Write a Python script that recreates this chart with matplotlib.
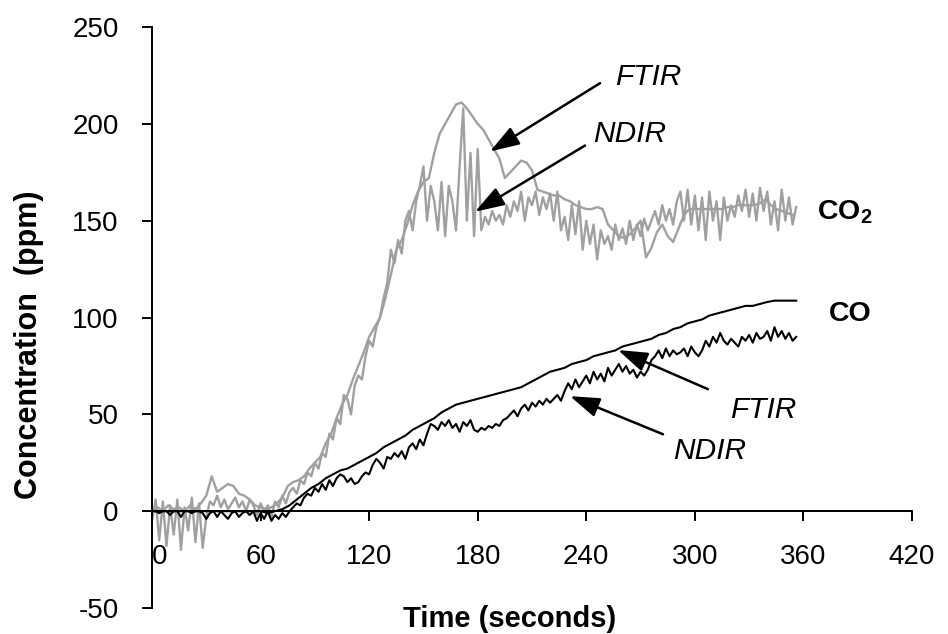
import numpy as np
import matplotlib
matplotlib.use("Agg")
import matplotlib.pyplot as plt

plt.rcParams['font.family'] = ['Liberation Sans', 'DejaVu Sans']
plt.rcParams['mathtext.fontset'] = 'custom'
plt.rcParams['mathtext.rm'] = 'Liberation Sans'
plt.rcParams['mathtext.bf'] = 'Liberation Sans:bold'
plt.rcParams['axes.unicode_minus'] = False

# CO2 NDIR (grey, noisy), one reading every 2 s
co2_ndir = [-5, 6, -15, 5, -18, 3, -12, 6, -20, 2, -10, 7, -16, 4, -19, -3,
            5, 3, 8, 2, 6, 1, 4, 7, 2, 5, 0, 6, 3, -2, 4, 0, 3, -3, 5, 2,
            8, 4, 10, 12, 9, 16, 14, 20, 18, 25, 22, 30, 28, 40, 37, 48, 45, 60,
            58, 50, 65, 70, 68, 80, 88, 85, 95, 100, 110, 118, 135, 128, 140, 133,
            150, 155, 145, 160, 168, 178, 150, 168, 160, 145, 170, 142, 168, 160,
            145, 178, 208, 150, 185, 142, 187, 145, 152, 148, 155, 150, 153, 148,
            158, 152, 160, 155, 165, 150, 162, 158, 165, 153, 162, 156, 164, 150,
            165, 145, 152, 140, 158, 143, 160, 135, 150, 138, 148, 130, 145, 138,
            142, 135, 148, 140, 146, 138, 150, 140, 148, 142, 151, 145, 150, 155,
            148, 158, 150, 156, 148, 160, 165, 150, 166, 148, 163, 145, 162, 140,
            165, 150, 160, 140, 162, 150, 158, 152, 163, 155, 166, 152, 164, 150,
            167, 155, 165, 148, 160, 145, 166, 150, 162, 148, 157]
co2_ndir_t = np.arange(len(co2_ndir)) * 2

# CO2 FTIR (grey, smoother), one reading every 3 s
co2_ftir = [0, 2, 0, 3, 1, 2, 0, 3, 1, 4, 8, 18, 10, 12, 14, 13, 9, 8, 6, 3,
            2, 1, 2, 4, 7, 13, 15, 16, 18, 22, 25, 28, 35, 40, 48, 55, 60, 68, 75, 82,
            90, 95, 100, 110, 122, 135, 140, 148, 158, 165, 170, 172, 185, 195, 200, 205,
            210, 211, 208, 204, 200, 197, 192, 187, 182, 172, 175, 178, 181, 180, 176, 166,
            165, 164, 163, 163, 161, 160, 158, 157, 156, 156, 157, 156, 148, 145, 142, 141,
            143, 146, 150, 131, 136, 144, 148, 142, 139, 146, 153, 156, 156, 156, 156, 156,
            156, 156, 157, 157, 158, 158, 158, 158, 159, 161, 158, 156, 155, 154, 153]
co2_ftir_t = np.arange(len(co2_ftir)) * 3

# CO NDIR (black, noisy), one reading every 2 s
co_ndir = [0, 0, -1, 0, 0, -2, 0, 0, -3, 0, 0, -1, 0, 0, -1, -4, -1, 0, -3, 0,
           -2, -4, -1, 0, -3, -1, 0, -2, 0, -5, -1, -4, 0, -5, -2, -4, -1, -3, 0, 2,
           4, 3, 7, 9, 8, 12, 10, 14, 11, 16, 13, 17, 19, 18, 15, 17, 14, 15, 18, 20,
           19, 24, 27, 25, 22, 28, 27, 30, 28, 31, 27, 33, 35, 32, 37, 34, 40, 45, 44, 42,
           46, 44, 47, 43, 45, 41, 46, 44, 47, 42, 41, 43, 42, 44, 43, 45, 44, 47, 48, 50,
           52, 49, 53, 55, 52, 56, 54, 57, 55, 58, 56, 58, 60, 57, 62, 66, 63, 68, 64, 67,
           70, 66, 72, 68, 71, 67, 74, 70, 73, 76, 72, 75, 71, 73, 69, 72, 70, 73, 78, 80,
           83, 79, 84, 80, 83, 81, 82, 84, 80, 85, 82, 80, 83, 88, 85, 90, 87, 92, 88, 86,
           89, 87, 85, 90, 88, 91, 87, 92, 89, 90, 93, 88, 95, 90, 93, 89, 92, 88, 90]
co_ndir_t = np.arange(len(co_ndir)) * 2

# CO FTIR (black, smooth), one reading every 4 s
co_ftir = [0, 0, 0, 0, 0, 0, 0, 0, 0, 0, 0, 0, 0, 0, 0, 0, -1, 0, 1, 3,
           6, 9, 12, 14, 17, 19, 21, 22, 24, 26, 28, 30, 33, 35, 37, 39, 42, 44, 46, 48,
           51, 53, 55, 56, 57, 58, 59, 60, 61, 62, 63, 64, 66, 68, 70, 72, 73, 74, 76, 77,
           78, 80, 81, 82, 83, 85, 86, 87, 88, 89, 91, 92, 94, 95, 97, 98, 99, 101, 102, 103,
           104, 105, 106, 106, 107, 108, 108.7, 108.7, 108.7, 108.7]
co_ftir_t = np.arange(len(co_ftir)) * 4

GREY = '#a0a0a0'

fig = plt.figure(figsize=(9.48, 6.34), dpi=100)
ax = fig.add_axes([152 / 948, 1 - 608 / 634, 760 / 948, 581 / 634])

ax.plot(co2_ndir_t, co2_ndir, color=GREY, lw=1.7)
ax.plot(co2_ftir_t, co2_ftir, color=GREY, lw=1.7)
ax.plot(co_ndir_t, co_ndir, color='black', lw=1.5)
ax.plot(co_ftir_t, co_ftir, color='black', lw=1.5)

ax.set_xlim(0, 420)
ax.set_ylim(-50, 250)
ax.set_xticks(range(0, 421, 60))
ax.set_yticks(range(-50, 251, 50))

for s in ['top', 'right']:
    ax.spines[s].set_visible(False)
ax.spines['bottom'].set_position(('data', 0))
ax.spines['left'].set_linewidth(1.4)
ax.spines['bottom'].set_linewidth(1.4)
ax.tick_params(axis='both', direction='out', length=7, width=1.4, labelsize=20)
ax.tick_params(axis='x', pad=17)
ax.tick_params(axis='y', pad=17)
ax.get_xticklabels()[0].set_horizontalalignment('left')

# arrows and labels
arrow_kw = dict(arrowstyle='-|>,head_length=0.9,head_width=0.3', color='black', lw=1.8,
                shrinkA=0, shrinkB=0, mutation_scale=20)
ax.annotate('', xy=(186.8, 185.7), xytext=(247.6, 221), arrowprops=arrow_kw)
ax.annotate('', xy=(178.5, 154.6), xytext=(239.3, 188.8), arrowprops=arrow_kw)
ax.annotate('', xy=(257.5, 83.2), xytext=(307.2, 63), arrowprops=arrow_kw)
ax.annotate('', xy=(231, 59.4), xytext=(282.4, 39.7), arrowprops=arrow_kw)

ax.text(274, 224, 'FTIR', fontsize=21.5, style='italic', ha='center', va='center')
ax.text(264, 194.5, 'NDIR', fontsize=21.5, style='italic', ha='center', va='center')
ax.text(338, 52, 'FTIR', fontsize=21.5, style='italic', ha='center', va='center')
ax.text(308.4, 30.9, 'NDIR', fontsize=21.5, style='italic', ha='center', va='center')
ax.text(367.5, 151, r'CO$_\mathbf{2}$', fontsize=20.5, fontweight='bold', ha='left', va='baseline')
ax.text(374, 98.2, 'CO', fontsize=20.5, fontweight='bold', ha='left', va='baseline')

fig.text(510 / 948, 1 - 627 / 634, 'Time (seconds)', fontsize=21, fontweight='bold',
         ha='center', va='baseline')
fig.text(29 / 948, 1 - 345 / 634, 'Concentration  (ppm)', fontsize=22, fontweight='bold',
         ha='center', va='center', rotation=90)

fig.savefig('out.png', dpi=100)
